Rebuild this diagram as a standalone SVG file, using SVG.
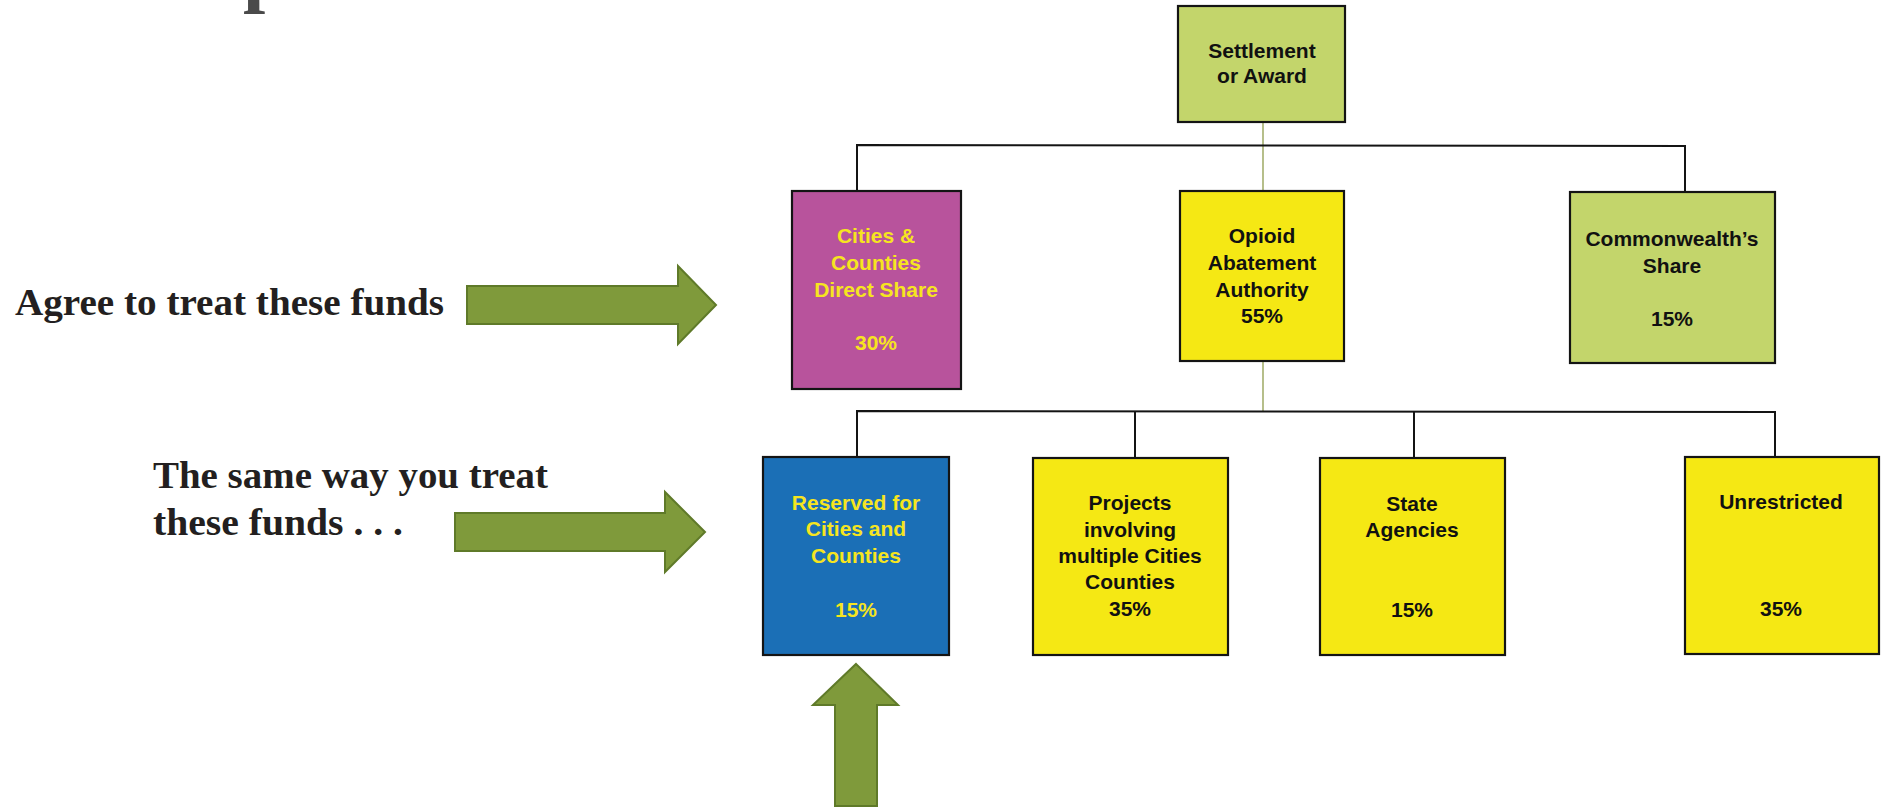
<svg xmlns="http://www.w3.org/2000/svg" width="1887" height="811" viewBox="0 0 1887 811">
<style>
.box{stroke:#141414;stroke-width:2.2}
.lt{fill:#c3d56b}
.yl{fill:#f5e814}
.pu{fill:#b8539c}
.bl{fill:#1b6fb6}
.t{font-family:"Liberation Sans",Arial,sans-serif;font-weight:bold;font-size:21px;text-anchor:middle;fill:#111}
.ty{fill:#f6e520}
.conn{stroke:#141414;stroke-width:2;fill:none}
.olive{stroke:#8f9c4c;stroke-width:1.3;fill:none}
.arrow{fill:#7f9a3b;stroke:#5f7a29;stroke-width:2;stroke-linejoin:miter}
.serif{font-family:"Liberation Serif","Times New Roman",serif;font-weight:bold;font-size:37px;fill:#231f20}
</style>
<rect width="1887" height="811" fill="#ffffff"/>
<text x="243" y="-3" font-family="Liberation Serif, serif" font-weight="bold" font-size="80" fill="#4a4a4a">p</text>
<g id="connectors">
<line class="olive" x1="1263" y1="122" x2="1263" y2="411"/>
<polyline class="conn" points="857,191 857,145 1685,146 1685,192"/>
<polyline class="conn" points="857,457 857,411 1775,412 1775,457"/>
<line class="conn" x1="1135" y1="411" x2="1135" y2="458"/>
<line class="conn" x1="1414" y1="411" x2="1414" y2="458"/>
</g>
<g id="settlement">
<rect class="box lt" x="1178" y="6" width="167" height="116"/>
<text class="t" x="1262" y="58">Settlement</text>
<text class="t" x="1262" y="83">or Award</text>
</g>
<g id="cities-direct">
<rect class="box pu" x="792" y="191" width="169" height="198"/>
<text class="t ty" x="876" y="243">Cities &amp;</text>
<text class="t ty" x="876" y="270">Counties</text>
<text class="t ty" x="876" y="297">Direct Share</text>
<text class="t ty" x="876" y="350">30%</text>
</g>
<g id="opioid">
<rect class="box yl" x="1180" y="191" width="164" height="170"/>
<text class="t" x="1262" y="243">Opioid</text>
<text class="t" x="1262" y="270">Abatement</text>
<text class="t" x="1262" y="297">Authority</text>
<text class="t" x="1262" y="323">55%</text>
</g>
<g id="commonwealth">
<rect class="box lt" x="1570" y="192" width="205" height="171"/>
<text class="t" x="1672" y="246">Commonwealth’s</text>
<text class="t" x="1672" y="273">Share</text>
<text class="t" x="1672" y="326">15%</text>
</g>
<g id="reserved">
<rect class="box bl" x="763" y="457" width="186" height="198"/>
<text class="t ty" x="856" y="510">Reserved for</text>
<text class="t ty" x="856" y="536">Cities and</text>
<text class="t ty" x="856" y="563">Counties</text>
<text class="t ty" x="856" y="617">15%</text>
</g>
<g id="projects">
<rect class="box yl" x="1033" y="458" width="195" height="197"/>
<text class="t" x="1130" y="510">Projects</text>
<text class="t" x="1130" y="537">involving</text>
<text class="t" x="1130" y="563">multiple Cities</text>
<text class="t" x="1130" y="589">Counties</text>
<text class="t" x="1130" y="616">35%</text>
</g>
<g id="state">
<rect class="box yl" x="1320" y="458" width="185" height="197"/>
<text class="t" x="1412" y="511">State</text>
<text class="t" x="1412" y="537">Agencies</text>
<text class="t" x="1412" y="617">15%</text>
</g>
<g id="unrestricted">
<rect class="box yl" x="1685" y="457" width="194" height="197"/>
<text class="t" x="1781" y="509">Unrestricted</text>
<text class="t" x="1781" y="616">35%</text>
</g>
<g id="label-agree">
<text class="serif" x="15" y="315" textLength="429" lengthAdjust="spacingAndGlyphs">Agree to treat these funds</text>
</g>
<g id="label-same">
<text class="serif" x="153" y="488" textLength="395" lengthAdjust="spacingAndGlyphs">The same way you treat</text>
<text class="serif" x="153" y="535" textLength="250" lengthAdjust="spacingAndGlyphs">these funds . . .</text>
</g>
<g id="arrows">
<path class="arrow" d="M467,286 L678,286 L678,266 L716,305 L678,344 L678,324 L467,324 Z"/>
<path class="arrow" d="M455,513 L665,513 L665,492 L705,532 L665,572 L665,551 L455,551 Z"/>
<path class="arrow" d="M856,664 L898,705 L877,705 L877,806 L835,806 L835,705 L813,705 Z"/>
</g>
</svg>
